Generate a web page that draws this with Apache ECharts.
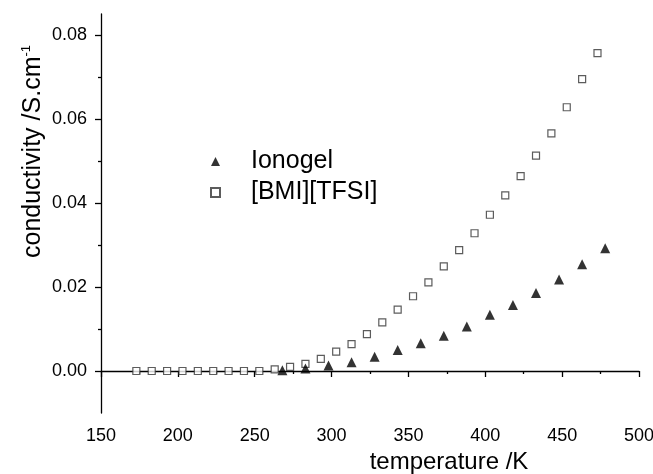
<!DOCTYPE html>
<html>
<head>
<meta charset="utf-8">
<script src="https://cdn.jsdelivr.net/npm/echarts@6/dist/echarts.min.js"></script>
<style>html,body{margin:0;padding:0;background:#fff}#c{width:653px;height:474px}</style>
</head>
<body>
<div id="c"></div>
<script>
// Data
var bmiT = [173,183,193,203,213,223,233,243,253,263,273,283,293,303,313,323,333,343,353,363,373,383,393,403,413,423,433,443,453,463,473];
var bmiS = [0,0,0,0,0,0,0,0,0,0.0004,0.0010,0.0017,0.0029,0.0046,0.0064,0.0088,0.0116,0.0146,0.0178,0.0211,0.0249,0.0288,0.0328,0.0372,0.0418,0.0464,0.0513,0.0566,0.0628,0.0695,0.0757];
var ionoT = [268,283,298,313,328,343,358,373,388,403,418,433,448,463,478];
var ionoS = [0.0002,0.0006,0.0013,0.0021,0.0034,0.0050,0.0066,0.0084,0.0106,0.0134,0.0157,0.0186,0.0218,0.0254,0.0292];
var yMajor = [0, 0.02, 0.04, 0.06, 0.08];
var yMinor = [0.01, 0.03, 0.05, 0.07];
var xLabelTitle = 'temperature /K';
var yLabelTitle = 'conductivity /S.cm';

function pairs(xs, ys){ return xs.map(function(x,i){ return [x, ys[i]]; }); }

var FONT = 'Liberation Sans, Arial, sans-serif';
var chart = echarts.init(document.getElementById('c'), null, {renderer:'canvas'});
chart.setOption({
  animation: false,
  backgroundColor: '#fff',
  grid: {left: 101, right: 14, top: 14, bottom: 61, containLabel: false, outerBoundsMode: 'none'},
  xAxis: {
    type: 'value', min: 150, max: 500, interval: 50,
    axisLine: {lineStyle: {color: '#000', width: 1.3}},
    axisTick: {length: 6, lineStyle: {color: '#000', width: 1.3}},
    minorTick: {show: true, splitNumber: 2, length: 3, lineStyle: {color: '#000', width: 1.3}},
    splitLine: {show: false},
    axisLabel: {color: '#000', fontSize: 18, fontFamily: FONT, margin: 14},
    name: xLabelTitle, nameLocation: 'middle', nameGap: 36,
    nameTextStyle: {color: '#000', fontSize: 24, fontFamily: FONT, padding: [0,0,0,158]}
  },
  yAxis: [{
    type: 'value', min: -0.01, max: 0.085,
    axisLine: {onZero: false, lineStyle: {color: '#000', width: 1.3}},
    axisTick: {customValues: yMajor, length: 6, lineStyle: {color: '#000', width: 1.3}},
    splitLine: {show: false},
    axisLabel: {customValues: yMajor, color: '#000', fontSize: 18, fontFamily: FONT, margin: 14,
      formatter: function(v){ return v.toFixed(2); }}
  }, {
    type: 'value', min: -0.01, max: 0.085, position: 'left',
    axisLine: {show: false},
    axisTick: {customValues: yMinor, length: 3, lineStyle: {color: '#000', width: 1.3}},
    axisLabel: {show: false},
    splitLine: {show: false}
  }],
  legend: {
    orient: 'vertical', left: 205, top: 144, itemGap: 6,
    itemWidth: 9, itemHeight: 9,
    textStyle: {color: '#000', fontSize: 25, fontFamily: FONT, padding: [0,0,0,26]},
    data: ['Ionogel', '[BMI][TFSI]']
  },
  graphic: [{
    type: 'text', x: 20, y: 258, rotation: Math.PI/2,
    style: {
      text: '{a|' + yLabelTitle + '}{s|-1}',
      rich: {
        a: {fontSize: 25, fontFamily: FONT, fill: '#000'},
        s: {fontSize: 13, fontFamily: FONT, fill: '#000', verticalAlign: 'top', padding: [0,0,13,0]}
      }
    }
  }],
  series: [{
    name: 'Ionogel', type: 'scatter', symbol: 'triangle', symbolSize: [10, 10],
    itemStyle: {color: '#000'},
    data: pairs(ionoT, ionoS), z: 3
  }, {
    name: '[BMI][TFSI]', type: 'scatter', symbol: 'rect', symbolSize: 7,
    itemStyle: {color: '#fff', borderColor: '#333', borderWidth: 1.2},
    data: pairs(bmiT, bmiS), z: 2
  }]
});
</script>
</body>
</html>
